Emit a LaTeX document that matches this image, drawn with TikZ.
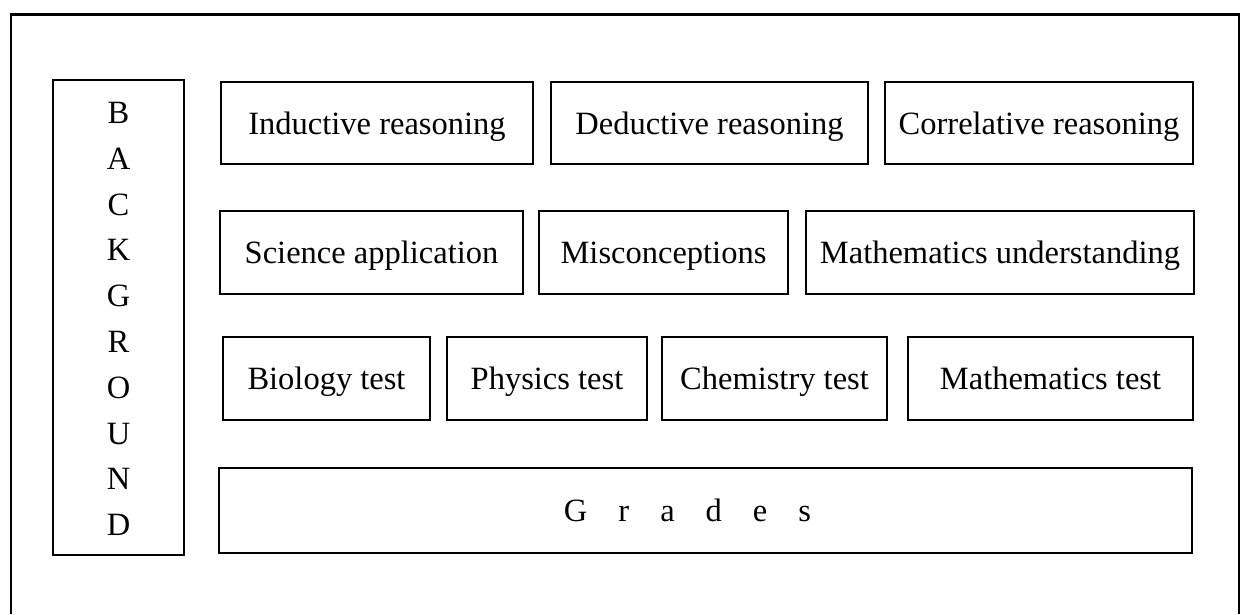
\documentclass[tikz,border=0pt]{standalone}
\usepackage{fontspec}
\setmainfont{Liberation Serif}
\begin{document}
\begin{tikzpicture}[x=1pt,y=-1pt,
  box/.style={draw=black, line width=2.2pt, inner sep=0pt, align=center,
    text height=29pt, text depth=7pt,
    font=\fontsize{32.5}{39}\selectfont},
  frameline/.style={draw=black, line width=2.8pt},
  lbl/.style={inner sep=0pt, align=center}]
\useasboundingbox (0,0) rectangle (1242,614);
% outer frame (bottom edge is cut off)
\coordinate (fbl) at (11,614);
\coordinate (ftl) at (11,14.5);
\coordinate (ftr) at (1239,14.5);
\coordinate (fbr) at (1239,614);
\draw[frameline] (fbl) -- (ftl) -- (ftr) -- (fbr);
% background column
\node[box, text height=, text depth=, minimum width=131pt, minimum height=475pt] (bg) at (118.5,317.5) {};
\node[lbl, font=\fontsize{32.5}{45.8}\selectfont] (bgtext) at (118.5,319) {B\\A\\C\\K\\G\\R\\O\\U\\N\\D};
% row 1
\node[box, minimum width=312pt, minimum height=82pt] (ind) at (377,123) {Inductive reasoning};
\node[box, minimum width=317pt, minimum height=82pt] (ded) at (709.5,123) {Deductive reasoning};
\node[box, minimum width=308pt, minimum height=82pt] (cor) at (1039,123) {Correlative reasoning};
% row 2
\node[box, minimum width=303pt, minimum height=83pt] (sci) at (371.5,252.5) {Science application};
\node[box, minimum width=249pt, minimum height=83pt] (mis) at (663.5,252.5) {Misconceptions};
\node[box, minimum width=388pt, minimum height=83pt] (mu) at (1000,252.5) {Mathematics understanding};
% row 3
\node[box, minimum width=207pt, minimum height=83pt] (bio) at (326.5,378.5) {Biology test};
\node[box, minimum width=200pt, minimum height=83pt] (phy) at (547,378.5) {Physics test};
\node[box, minimum width=225pt, minimum height=83pt] (che) at (774.5,378.5) {Chemistry test};
\node[box, minimum width=285pt, minimum height=83pt] (mat) at (1050.5,378.5) {Mathematics test};
% grades
\node[box, text height=, text depth=, minimum width=973pt, minimum height=85pt] (gra) at (705.5,510.5) {};
\node[lbl, font=\fontsize{32.5}{39}\selectfont] (gratext) at (687.5,510.5)
  {G\hspace{31pt}r\hspace{31pt}a\hspace{31pt}d\hspace{31pt}e\hspace{31pt}s};
\end{tikzpicture}
\end{document}
